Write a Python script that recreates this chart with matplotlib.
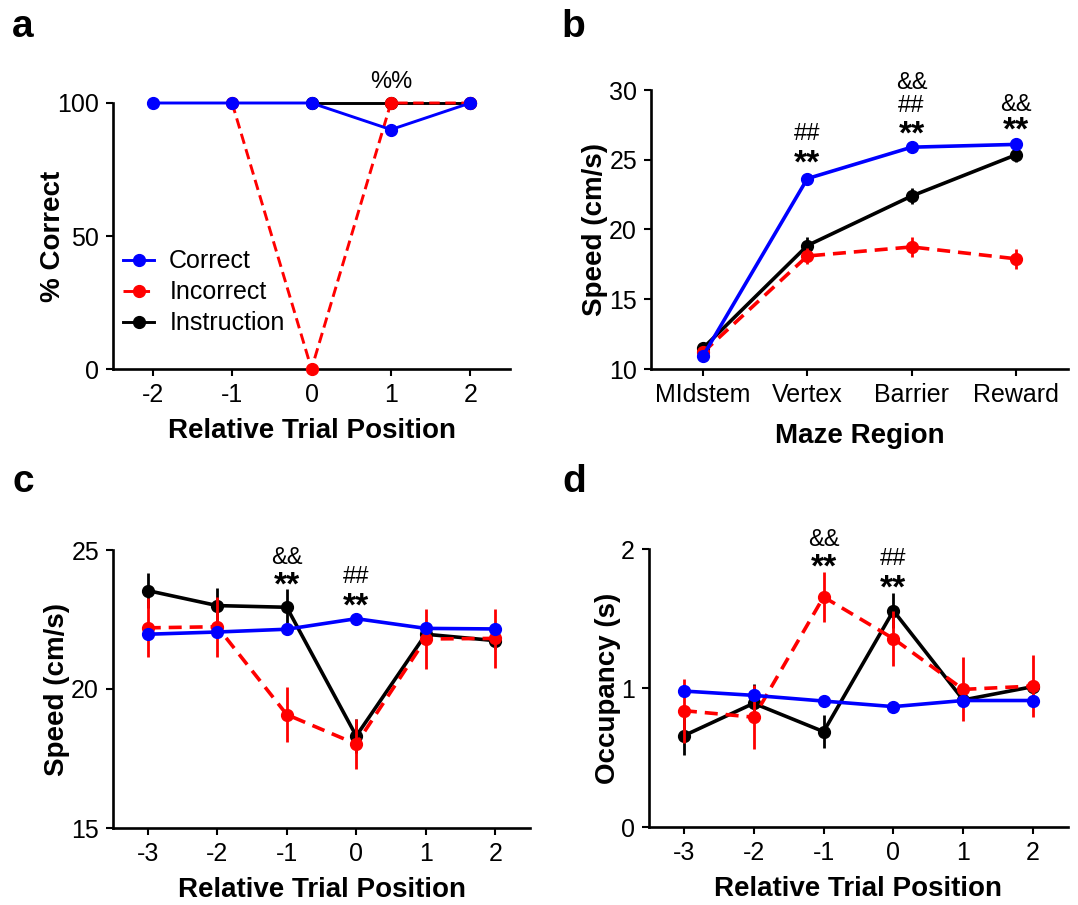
import numpy as np
import matplotlib
matplotlib.use('Agg')
import matplotlib.pyplot as plt

plt.rcParams['font.family'] = ['Liberation Sans', 'DejaVu Sans']
plt.rcParams['axes.unicode_minus'] = False

BLUE = '#0000ff'
RED = '#ff0000'
BLACK = '#000000'

# panel a: % correct
a_x = [-2, -1, 0, 1, 2]
a_correct = [100, 100, 100, 90, 100]
a_incorrect = [np.nan, 100, 0, 100, 100]
a_instruction = [np.nan, np.nan, 100, 100, 100]

# panel b: speed by maze region
b_regions = ['MIdstem', 'Vertex', 'Barrier', 'Reward']
b_correct = [10.95, 23.65, 25.9, 26.1]
b_correct_err = [0.2, 0.2, 0.2, 0.2]
b_incorrect = [11.2, 18.1, 18.75, 17.9]
b_incorrect_err = [0.3, 0.6, 0.7, 0.7]
b_instruction = [11.5, 18.85, 22.4, 25.35]
b_instruction_err = [0.3, 0.6, 0.6, 0.5]
# significance marks: (x index, text, y)
b_marks = [(1, '##', 26.85), (1, '**', 24.7),
           (2, '&&', 30.5), (2, '##', 28.85), (2, '**', 26.77),
           (3, '&&', 28.92), (3, '**', 27.06)]

# panel c: speed by relative trial position
c_x = [-3, -2, -1, 0, 1, 2]
c_correct = [21.97, 22.05, 22.15, 22.53, 22.18, 22.16]
c_correct_err = [0.1, 0.1, 0.1, 0.1, 0.1, 0.1]
c_incorrect = [22.2, 22.24, 19.08, 18.02, 21.8, 21.82]
c_incorrect_err = [1.06, 1.08, 1.0, 0.9, 1.08, 1.05]
c_instruction = [23.54, 23.0, 22.94, 18.31, 21.97, 21.74]
c_instruction_err = [0.64, 0.64, 0.65, 0.6, 0.3, 0.3]
c_marks = [(-1, '&&', 24.72), (-1, '**', 23.7), (0, '##', 24.03), (0, '**', 22.95)]

# panel d: occupancy
d_x = [-3, -2, -1, 0, 1, 2]
d_correct = [0.978, 0.947, 0.906, 0.866, 0.91, 0.91]
d_correct_err = [0.02, 0.02, 0.02, 0.02, 0.02, 0.02]
d_incorrect = [0.837, 0.79, 1.655, 1.355, 0.99, 1.014]
d_incorrect_err = [0.23, 0.23, 0.18, 0.2, 0.23, 0.22]
d_instruction = [0.657, 0.89, 0.686, 1.556, 0.914, 1.01]
d_instruction_err = [0.14, 0.14, 0.12, 0.125, 0.03, 0.03]
d_marks = [(-1, '&&', 2.065), (-1, '**', 1.865), (0, '##', 1.928), (0, '**', 1.714)]

W, H = 1078, 905
fig = plt.figure(figsize=(W / 100, H / 100), dpi=100)


def px_axes(left, right, top, bottom):
    return fig.add_axes([left / W, 1 - bottom / H, (right - left) / W, (bottom - top) / H])


def style(ax):
    for s in ['top', 'right']:
        ax.spines[s].set_visible(False)
    for s in ['left', 'bottom']:
        ax.spines[s].set_linewidth(1.9)
    ax.tick_params(width=1.5, length=5, labelsize=18, pad=5)


def series(ax, x, y, err, color, ls, z):
    d = (3.6, 2.2) if ls == '--' else (None, None)
    ax.errorbar(x, y, yerr=err, color=color, lw=2.6, marker='o', ms=8.5,
                elinewidth=2, capsize=0, zorder=z, clip_on=False, dashes=d)


def marks(ax, items):
    for x, m, y in items:
        bold = m == '**'
        ax.text(x, y, m, ha='center', va='center',
                fontsize=24 if bold else 17, fontweight='bold' if bold else 'normal')


# ---- a
ax = px_axes(113, 510, 103, 369)
style(ax)
l1, = ax.plot(a_x, a_instruction, color=BLACK, lw=2.1, marker='o', ms=8.5, zorder=3, clip_on=False,
              label='Instruction')
l2, = ax.plot(a_x, a_incorrect, color=RED, lw=2.1, marker='o', ms=8.5, zorder=4, clip_on=False,
              dashes=(3.6, 1.9), label='Incorrect')
l3, = ax.plot(a_x, a_correct, color=BLUE, lw=2.1, marker='o', ms=8.5, zorder=5, clip_on=False,
              label='Correct')
ax.set_xlim(-2.5, 2.5)
ax.set_ylim(0, 100)
ax.set_xticks(a_x)
ax.set_yticks([0, 50, 100])
ax.text(1, 108, '%%', ha='center', va='center', fontsize=17)
ax.legend(handles=[l3, l2, l1], loc='upper left', bbox_to_anchor=((123 - 113) / 397, 0.45),
          frameon=False, fontsize=18, handlelength=1.25, handletextpad=0.6, labelspacing=0.28,
          borderaxespad=0, borderpad=0)
ax.set_ylabel('% Correct', fontsize=20, fontweight='bold')
ax.set_xlabel('Relative Trial Position', fontsize=20, fontweight='bold')
ax.yaxis.set_label_coords((66 - 113) / 397, 0.5)
ax.xaxis.set_label_coords(0.5, (369 - 418) / 266)

# ---- b
ax = px_axes(651, 1068, 90, 369)
style(ax)
bx = np.arange(len(b_regions))
series(ax, bx, b_instruction, b_instruction_err, BLACK, '-', 3)
series(ax, bx, b_incorrect, b_incorrect_err, RED, '--', 4)
series(ax, bx, b_correct, b_correct_err, BLUE, '-', 5)
ax.set_xlim(-0.5, 3.5)
ax.set_ylim(10, 30)
ax.set_xticks(bx)
ax.set_xticklabels(b_regions)
ax.set_yticks([10, 15, 20, 25, 30])
marks(ax, b_marks)
ax.set_ylabel('Speed (cm/s)', fontsize=20, fontweight='bold')
ax.set_xlabel('Maze Region', fontsize=20, fontweight='bold')
ax.yaxis.set_label_coords((608 - 651) / 417, 0.5)
ax.xaxis.set_label_coords(0.5, (369 - 423) / 279)

# ---- c
ax = px_axes(113, 530, 550, 828)
style(ax)
series(ax, c_x, c_instruction, c_instruction_err, BLACK, '-', 3)
series(ax, c_x, c_incorrect, c_incorrect_err, RED, '--', 4)
series(ax, c_x, c_correct, c_correct_err, BLUE, '-', 5)
ax.set_xlim(-3.5, 2.5)
ax.set_ylim(15, 25)
ax.set_xticks(c_x)
ax.set_yticks([15, 20, 25])
marks(ax, c_marks)
ax.set_ylabel('Speed (cm/s)', fontsize=20, fontweight='bold')
ax.set_xlabel('Relative Trial Position', fontsize=20, fontweight='bold')
ax.yaxis.set_label_coords((70 - 113) / 417, 0.5)
ax.xaxis.set_label_coords(0.5, (828 - 877) / 278)

# ---- d
ax = px_axes(649, 1068, 549, 827)
style(ax)
series(ax, d_x, d_instruction, d_instruction_err, BLACK, '-', 3)
series(ax, d_x, d_incorrect, d_incorrect_err, RED, '--', 4)
series(ax, d_x, d_correct, d_correct_err, BLUE, '-', 5)
ax.set_xlim(-3.5, 2.5)
ax.set_ylim(0, 2)
ax.set_xticks(d_x)
ax.set_yticks([0, 1, 2])
marks(ax, d_marks)
ax.set_ylabel('Occupancy (s)', fontsize=20, fontweight='bold')
ax.set_xlabel('Relative Trial Position', fontsize=20, fontweight='bold')
ax.yaxis.set_label_coords((621 - 649) / 419, 0.5)
ax.xaxis.set_label_coords(0.5, (827 - 876) / 278)

for lbl, x, y in [('a', 12, 37), ('b', 561, 37), ('c', 12, 492), ('d', 562, 492)]:
    fig.text(x / W, 1 - y / H, lbl, fontsize=28, fontweight='bold', ha='left', va='baseline')

fig.savefig('out.png', dpi=100)
